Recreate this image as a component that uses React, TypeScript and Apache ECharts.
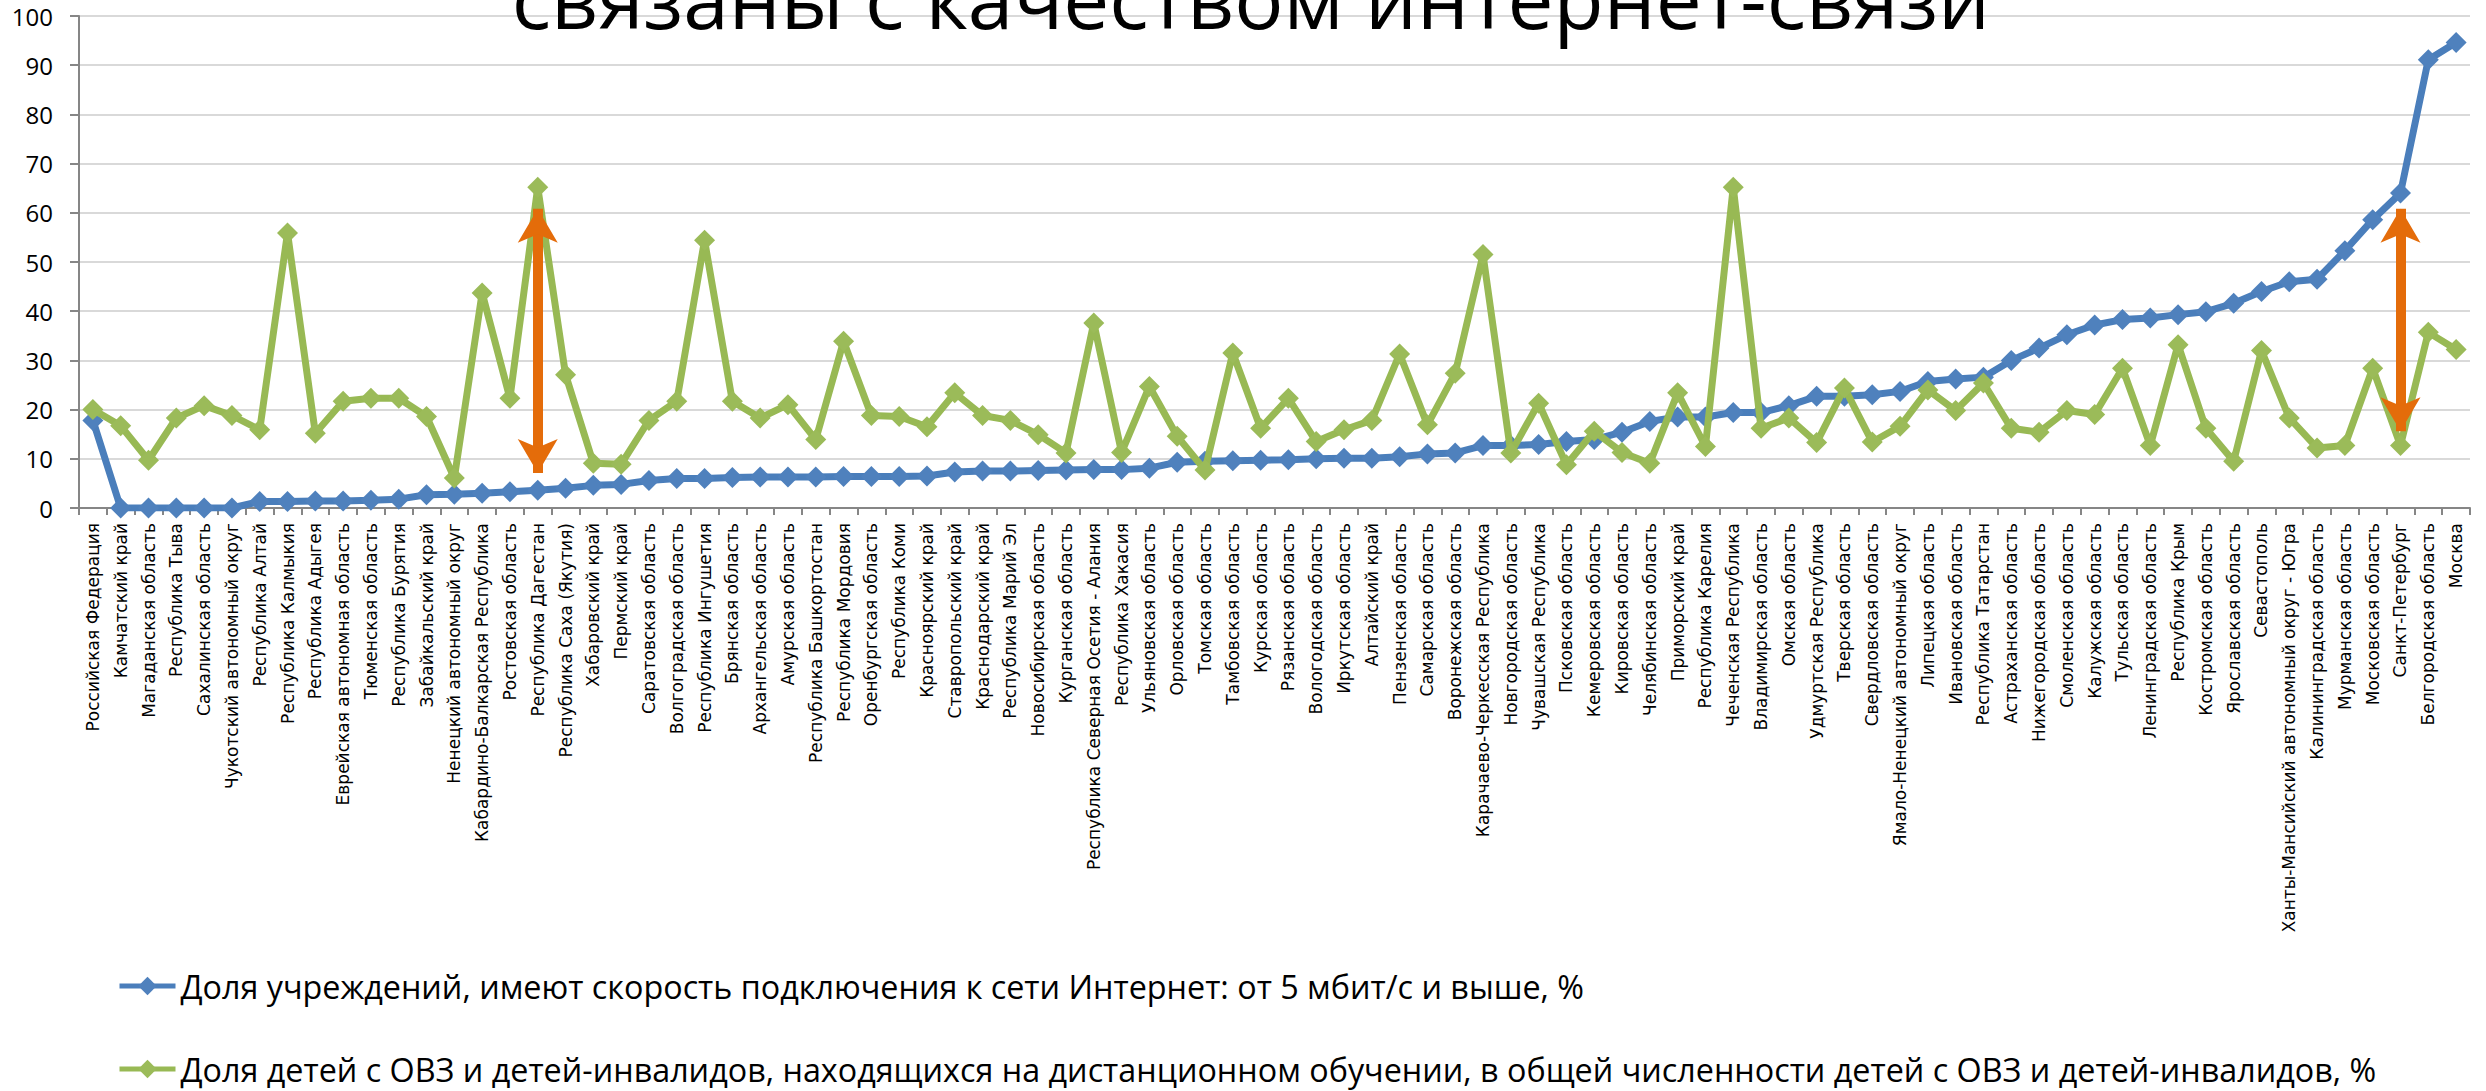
import React, { useEffect, useRef } from "react";
import * as echarts from "echarts";

const categories: string[] = [
  "Российская Федерация",
  "Камчатский край",
  "Магаданская область",
  "Республика Тыва",
  "Сахалинская область",
  "Чукотский автономный округ",
  "Республика Алтай",
  "Республика Калмыкия",
  "Республика Адыгея",
  "Еврейская автономная область",
  "Тюменская область",
  "Республика Бурятия",
  "Забайкальский край",
  "Ненецкий автономный округ",
  "Кабардино-Балкарская Республика",
  "Ростовская область",
  "Республика Дагестан",
  "Республика Саха (Якутия)",
  "Хабаровский край",
  "Пермский край",
  "Саратовская область",
  "Волгоградская область",
  "Республика Ингушетия",
  "Брянская область",
  "Архангельская область",
  "Амурская область",
  "Республика Башкортостан",
  "Республика Мордовия",
  "Оренбургская область",
  "Республика Коми",
  "Красноярский край",
  "Ставропольский край",
  "Краснодарский край",
  "Республика Марий Эл",
  "Новосибирская область",
  "Курганская область",
  "Республика Северная Осетия - Алания",
  "Республика Хакасия",
  "Ульяновская область",
  "Орловская область",
  "Томская область",
  "Тамбовская область",
  "Курская область",
  "Рязанская область",
  "Вологодская область",
  "Иркутская область",
  "Алтайский край",
  "Пензенская область",
  "Самарская область",
  "Воронежская область",
  "Карачаево-Черкесская Республика",
  "Новгородская область",
  "Чувашская Республика",
  "Псковская область",
  "Кемеровская область",
  "Кировская область",
  "Челябинская область",
  "Приморский край",
  "Республика Карелия",
  "Чеченская Республика",
  "Владимирская область",
  "Омская область",
  "Удмуртская Республика",
  "Тверская область",
  "Свердловская область",
  "Ямало-Ненецкий автономный округ",
  "Липецкая область",
  "Ивановская область",
  "Республика Татарстан",
  "Астраханская область",
  "Нижегородская область",
  "Смоленская область",
  "Калужская область",
  "Тульская область",
  "Ленинградская область",
  "Республика Крым",
  "Костромская область",
  "Ярославская область",
  "Севастополь",
  "Ханты-Мансийский автономный округ - Югра",
  "Калининградская область",
  "Мурманская область",
  "Московская область",
  "Санкт-Петербург",
  "Белгородская область",
  "Москва",
];

const internetShare: number[] = [
  17.8, 0, 0, 0, 0, 0, 1.3, 1.3, 1.4, 1.4,
  1.6, 1.8, 2.7, 2.8, 3.0, 3.3, 3.6, 4.0, 4.6, 4.8,
  5.6, 6.0, 6.0, 6.2, 6.3, 6.3, 6.3, 6.4, 6.4, 6.4,
  6.5, 7.3, 7.5, 7.5, 7.6, 7.7, 7.8, 7.8, 8.1, 9.3,
  9.5, 9.6, 9.7, 9.8, 10.0, 10.1, 10.1, 10.4, 11.0, 11.2,
  12.7, 12.7, 12.9, 13.5, 13.9, 15.4, 17.6, 18.5, 18.5, 19.4,
  19.4, 20.8, 22.7, 22.7, 23.0, 23.7, 25.7, 26.2, 26.6, 30.0,
  32.5, 35.2, 37.2, 38.3, 38.6, 39.3, 39.9, 41.6, 44.0, 46.0,
  46.5, 52.3, 58.6, 64.0, 91.1, 94.6,
];

const distanceShare: number[] = [
  20.0, 16.7, 9.7, 18.3, 20.8, 18.8, 15.9, 55.9, 15.2, 21.7,
  22.3, 22.3, 18.6, 6.1, 43.7, 22.3, 65.2, 27.1, 9.1, 8.9,
  17.8, 21.7, 54.4, 21.7, 18.3, 21.0, 13.9, 33.9, 18.8, 18.6,
  16.5, 23.4, 18.8, 17.8, 14.9, 11.2, 37.6, 11.3, 24.7, 14.6,
  7.7, 31.5, 16.2, 22.3, 13.5, 15.9, 17.8, 31.3, 16.9, 27.4,
  51.5, 11.2, 21.3, 8.8, 15.6, 11.3, 9.1, 23.4, 12.5, 65.2,
  16.2, 18.3, 13.3, 24.4, 13.4, 16.6, 24.0, 19.8, 25.4, 16.2,
  15.4, 19.8, 19.0, 28.4, 12.7, 33.2, 16.2, 9.5, 32.0, 18.3,
  12.2, 12.7, 28.4, 12.7, 35.7, 32.2,
];

const yTicks: number[] = [0, 10, 20, 30, 40, 50, 60, 70, 80, 90, 100];

// double-headed arrows: category, upper tip value, lower tip value
const arrowCategories: string[] = ["Республика Дагестан", "Санкт-Петербург"];
const arrowUpper: number[] = [60.8, 60.8];
const arrowLower: number[] = [7.1, 15.6];

const seriesNames: string[] = [
  "Доля учреждений, имеют скорость подключения к сети Интернет: от 5 мбит/с и выше, %",
  "Доля детей с ОВЗ и детей-инвалидов, находящихся на дистанционном обучении, в общей численности детей с ОВЗ и детей-инвалидов, %",
];

const titleText = "связаны с качеством интернет-связи";

export default function App() {
  const ref = useRef<HTMLDivElement>(null);

  useEffect(() => {
    if (!ref.current) return;
    const chart = echarts.init(ref.current, null, { renderer: "svg" });
    const axisColor = "#868686";
    const legendCommon = {
      orient: "vertical",
      left: 117,
      padding: 0,
      itemWidth: 56,
      itemHeight: 23,
      selectedMode: false,
      lineStyle: { width: 5 },
      textStyle: {
        fontFamily: "Open Sans",
        fontSize: 32.3,
        lineHeight: 32,
        color: "#000",
      },
    };
    const option: any = {
      animation: false,
      backgroundColor: "#fff",
      graphic: [
        {
          type: "text",
          x: 1251,
          y: -3,
          z: 10,
          style: {
            text: titleText,
            fontFamily: "Open Sans",
            fontSize: 82,
            fill: "#000",
            align: "center",
            verticalAlign: "middle",
          },
        },
      ],
      legend: [
        { ...legendCommon, top: 970, data: [seriesNames[0]] },
        { ...legendCommon, top: 1053, data: [seriesNames[1]] },
      ],
      grid: { left: 79, right: 16, top: 16, bottom: 583, containLabel: false },
      xAxis: {
        type: "category",
        data: categories,
        boundaryGap: true,
        axisLine: { lineStyle: { color: axisColor, width: 2 } },
        axisTick: { show: true, length: 7, interval: 0, lineStyle: { color: axisColor, width: 2 } },
        axisLabel: {
          interval: 0,
          rotate: 90,
          margin: 15,
          fontFamily: "DejaVu Sans",
          fontSize: 17,
          color: "#000",
        },
        splitLine: { show: false },
      },
      yAxis: {
        type: "value",
        min: yTicks[0],
        max: yTicks[yTicks.length - 1],
        interval: yTicks[1] - yTicks[0],
        axisLine: { show: true, lineStyle: { color: axisColor, width: 2 } },
        axisTick: { show: true, length: 9, lineStyle: { color: axisColor, width: 2 } },
        axisLabel: {
          margin: 26,
          fontFamily: "Open Sans",
          fontSize: 24,
          color: "#000",
        },
        splitLine: { show: true, lineStyle: { color: "#D9D9D9", width: 2 } },
      },
      series: [
        {
          name: seriesNames[0],
          type: "line",
          data: internetShare,
          symbol: "diamond",
          symbolSize: 21,
          lineStyle: { color: "#4A7EBB", width: 7 },
          itemStyle: { color: "#4F81BD" },
          z: 2,
        },
        {
          name: seriesNames[1],
          type: "line",
          data: distanceShare,
          symbol: "diamond",
          symbolSize: 21,
          lineStyle: { color: "#98B954", width: 7 },
          itemStyle: { color: "#9BBB59" },
          z: 3,
          markLine: {
            silent: true,
            symbol: ["arrow", "arrow"],
            symbolSize: [30, 34],
            label: { show: false },
            lineStyle: { color: "#E46C0A", width: 10, type: "solid" },
            data: arrowCategories.map((c, i) => [
              { coord: [c, arrowUpper[i]] },
              { coord: [c, arrowLower[i]] },
            ]),
          },
        },
      ],
    };
    chart.setOption(option);
    return () => chart.dispose();
  }, []);

  return (
    <div
      ref={ref}
      style={{ position: "absolute", left: 0, top: 0, width: 2486, height: 1091 }}
    />
  );
}
